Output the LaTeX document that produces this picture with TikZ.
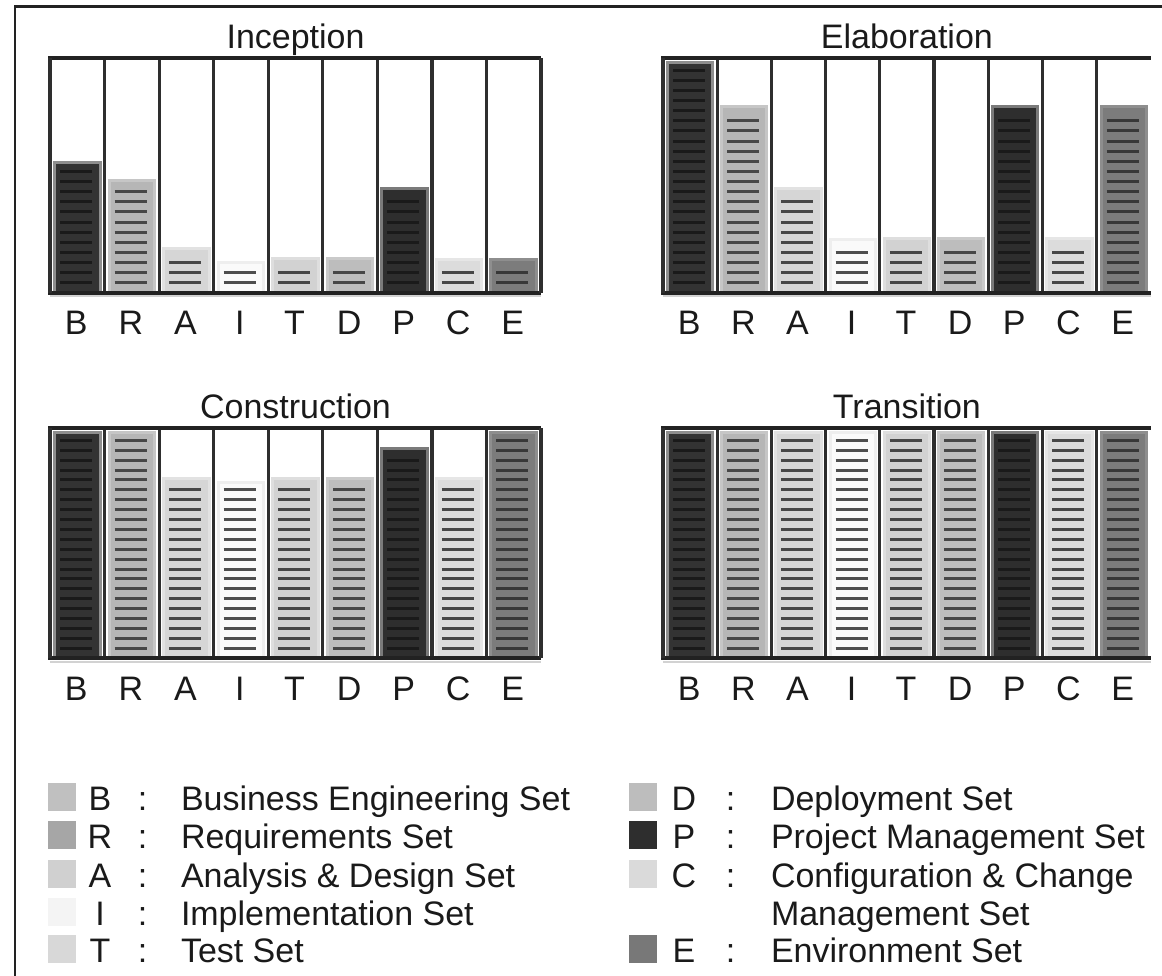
\documentclass[tikz,border=0pt]{standalone}
\usepackage{fontspec}
\setmainfont{Liberation Sans}

\definecolor{ink}{HTML}{1A1A1A}
\definecolor{rulec}{HTML}{222222}
\definecolor{sepc}{HTML}{2E2E2E}
\definecolor{shadec}{HTML}{D2D2D2}
% bar fill, bar edge and stripe colour of each artifact set
\definecolor{fillB}{HTML}{333333}\definecolor{edgeB}{HTML}{8E8E8E}\definecolor{lineB}{HTML}{1A1A1A}
\definecolor{fillR}{HTML}{B6B6B6}\definecolor{edgeR}{HTML}{C6C6C6}\definecolor{lineR}{HTML}{474747}
\definecolor{fillA}{HTML}{D6D6D6}\definecolor{edgeA}{HTML}{E2E2E2}\definecolor{lineA}{HTML}{474747}
\definecolor{fillI}{HTML}{FAFAFA}\definecolor{edgeI}{HTML}{EEEEEE}\definecolor{lineI}{HTML}{4E4E4E}
\definecolor{fillT}{HTML}{D2D2D2}\definecolor{edgeT}{HTML}{DEDEDE}\definecolor{lineT}{HTML}{474747}
\definecolor{fillD}{HTML}{BDBDBD}\definecolor{edgeD}{HTML}{CACACA}\definecolor{lineD}{HTML}{474747}
\definecolor{fillP}{HTML}{2E2E2E}\definecolor{edgeP}{HTML}{7A7A7A}\definecolor{lineP}{HTML}{1A1A1A}
\definecolor{fillC}{HTML}{DCDCDC}\definecolor{edgeC}{HTML}{E6E6E6}\definecolor{lineC}{HTML}{474747}
\definecolor{fillE}{HTML}{7C7C7C}\definecolor{edgeE}{HTML}{8E8E8E}\definecolor{lineE}{HTML}{383838}
% legend swatches
\definecolor{keyB}{HTML}{C0C0C0}
\definecolor{keyR}{HTML}{A6A6A6}
\definecolor{keyA}{HTML}{D0D0D0}
\definecolor{keyI}{HTML}{F4F4F4}
\definecolor{keyT}{HTML}{D8D8D8}
\definecolor{keyD}{HTML}{BDBDBD}
\definecolor{keyP}{HTML}{2E2E2E}
\definecolor{keyC}{HTML}{DADADA}
\definecolor{keyE}{HTML}{787878}

\tikzset{
  txt/.style={font=\fontsize{34.1}{40}\selectfont, text=ink, inner sep=0pt, outer sep=0pt},
  charttitle/.style={txt, anchor=base},
  axislabel/.style={txt, anchor=base},
  keyletter/.style={txt, anchor=base},
  keytext/.style={txt, anchor=base west},
  swatch/.style={minimum width=28bp, minimum height=28bp, inner sep=0pt, draw=none},
  barbox/.style={line width=3bp},
  stripe/.style={line width=3bp},
  sepline/.style={draw=sepc, line width=3.2bp},
  frameline/.style={draw=rulec, line width=4.2bp},
  shadeline/.style={draw=shadec, line width=2bp},
  pageframe/.style={draw=rulec, line width=2.5bp},
}

% #1 name, #2 title, #3 left x, #4 column width, #5 top y, #6 bottom y,
% #7 bar tops as top/letter, #8 = 1 to close the box on the right
\newcommand\artchart[8]{%
  \pgfmathsetmacro\chs{(#6-#5-22)/21}
  \foreach \t/\L [count=\i from 0] in {#7} {
    \pgfmathsetmacro\xl{#3+\i*#4}
    \pgfmathsetmacro\xr{\xl+#4}
    \draw[barbox, fill=fill\L, draw=edge\L] (\xl+4.5,\t) rectangle (\xr-4.5,#6);
    \pgfmathtruncatemacro\nl{min(21,floor((#6-17-\t)/\chs))}
    \foreach \k in {0,...,\nl}
      \draw[stripe, draw=line\L] (\xl+10,#6-10-\k*\chs) -- (\xl+42,#6-10-\k*\chs);
    \node[axislabel] (#1\L) at (\xl+#4/2-1,#6+42) {\L};
  }
  \foreach \i in {1,...,8}
    \draw[sepline] (#3+\i*#4,#5) -- (#3+\i*#4,#6);
  \draw[shadeline] (#3,#6+3.5) -- (#3+9*#4,#6+3.5);
  \draw[frameline] (#3-1.6,#5) -- (#3+9*#4,#5);
  \draw[frameline] (#3-1.6,#6) -- (#3+9*#4,#6);
  \draw[sepline] (#3,#5) -- (#3,#6);
  \ifnum#8=1 \draw[sepline] (#3+9*#4,#5) -- (#3+9*#4,#6);\fi
  \node[charttitle] (#1title) at (#3+4.5*#4,#5-10) {#2};
}

\begin{document}
\begin{tikzpicture}[x=1bp,y=-1bp]
\useasboundingbox (0,0) rectangle (1162,976);
\fill[white] (0,0) rectangle (1162,976);

% page frame (open to the right and bottom)
\draw[pageframe] (1162,6.5) -- (15,6.5) -- (15,976);

% the four phase charts
\artchart{inc}{Inception}{50}{54.56}{58.3}{292.7}
  {162/B,180/R,248/A,262/I,258/T,258/D,188/P,259/C,259/E}{1}
\artchart{ela}{Elaboration}{663}{54.2}{58.3}{292.7}
  {62.5/B,106/R,188/A,239/I,238/T,238/D,106/P,238/C,106/E}{0}
\artchart{con}{Construction}{50}{54.56}{428.3}{658.3}
  {432.5/B,432.5/R,478/A,482/I,478/T,478/D,448/P,478/C,432.5/E}{1}
\artchart{tra}{Transition}{663}{54.2}{428.3}{658.3}
  {432.5/B,432.5/R,432.5/A,432.5/I,432.5/T,432.5/D,432.5/P,432.5/C,432.5/E}{0}

% legend, left column
\foreach \L/\y/\txt in {B/810/Business Engineering Set, R/848/Requirements Set,
    A/887/Analysis \& Design Set, I/925/Implementation Set, T/962/Test Set} {
  \node[swatch, fill=key\L] (key\L) at (62,\y-13) {};
  \node[keyletter] (keyl\L) at (100,\y) {\L};
  \node[keyletter] (keyc\L) at (142.5,\y) {:};
  \node[keytext] (keyt\L) at (181,\y) {\txt};
}
% legend, right column
\foreach \L/\y/\txt in {D/810/Deployment Set, P/848/Project Management Set,
    C/887/Configuration \& Change, E/962/Environment Set} {
  \node[swatch, fill=key\L] (key\L) at (643,\y-13) {};
  \node[keyletter] (keyl\L) at (684,\y) {\L};
  \node[keyletter] (keyc\L) at (730.5,\y) {:};
  \node[keytext] (keyt\L) at (771,\y) {\txt};
}
\node[keytext] (keytC2) at (771,925) {Management Set};
\end{tikzpicture}
\end{document}
